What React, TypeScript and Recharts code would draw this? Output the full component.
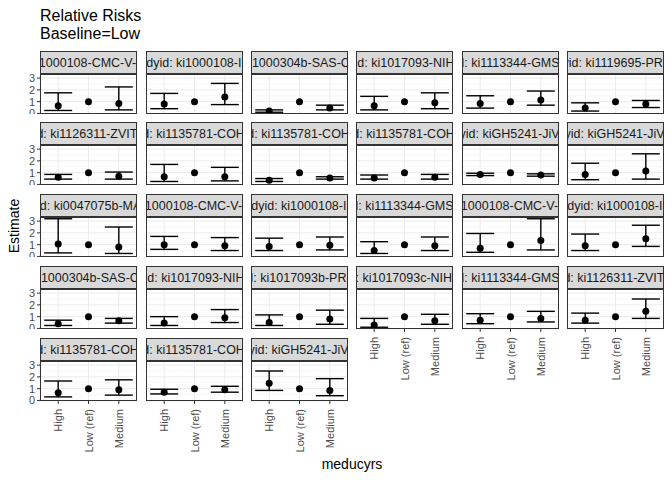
import React from "react";
import {
  ComposedChart,
  Scatter,
  ErrorBar,
  XAxis,
  YAxis,
  CartesianGrid,
  ReferenceLine,
} from "recharts";

const categories = ["High", "Low (ref)", "Medium"];
const studies = [
  "ki1000108-CMC-V-BCS-2002", "ki1000108-IRC", "ki1000304b-SAS-CompFeed", "ki1017093-NIH-Birth", "ki1113344-GMS-Nepal", "ki1119695-PROBIT",
  "ki1126311-ZVITAMBO", "ki1135781-COHORTS", "ki1135781-COHORTS", "ki1135781-COHORTS", "kiGH5241-JiVitA-3", "kiGH5241-JiVitA-4",
  "ki0047075b-MAL-ED", "ki1000108-CMC-V-BCS-2002", "ki1000108-IRC", "ki1113344-GMS-Nepal", "ki1000108-CMC-V-BCS-2002", "ki1000108-IRC",
  "ki1000304b-SAS-CompFeed", "ki1017093-NIH-Birth", "ki1017093b-PROVIDE", "ki1017093c-NIH-Crypto", "ki1113344-GMS-Nepal", "ki1126311-ZVITAMBO",
  "ki1135781-COHORTS", "ki1135781-COHORTS", "kiGH5241-JiVitA-3",
];
const highEst = [0.65, 0.8, 0.2, 0.65, 0.85, 0.45, 0.6, 0.65, 0.35, 0.55, 0.85, 0.85, 1.05, 1.0, 0.85, 0.5, 0.7, 0.9, 0.4, 0.45, 0.5, 0.3, 0.7, 0.7, 0.65, 0.7, 1.45];
const highLo = [0.25, 0.4, 0.1, 0.3, 0.45, 0.2, 0.45, 0.25, 0.25, 0.45, 0.75, 0.4, 0.3, 0.6, 0.5, 0.25, 0.35, 0.5, 0.25, 0.25, 0.25, 0.1, 0.4, 0.45, 0.3, 0.55, 0.85];
const highHi = [1.75, 1.7, 0.3, 1.45, 1.5, 0.9, 0.85, 1.7, 0.5, 0.8, 0.95, 1.8, 3.2, 1.7, 1.55, 1.25, 1.95, 1.9, 0.7, 1.0, 1.15, 0.85, 1.25, 1.3, 1.65, 0.95, 2.5];
const medEst = [0.85, 1.4, 0.45, 0.9, 1.15, 0.8, 0.7, 0.65, 0.55, 0.6, 0.8, 1.15, 0.8, 0.9, 0.95, 0.9, 1.35, 1.5, 0.65, 0.9, 0.8, 0.65, 0.85, 1.45, 0.9, 0.9, 0.85];
const medLo = [0.3, 0.75, 0.3, 0.4, 0.7, 0.5, 0.45, 0.3, 0.45, 0.45, 0.7, 0.45, 0.25, 0.5, 0.55, 0.5, 0.55, 0.85, 0.45, 0.5, 0.35, 0.35, 0.55, 0.85, 0.45, 0.7, 0.4];
const medHi = [2.25, 2.55, 0.7, 1.75, 1.9, 1.1, 1.05, 1.45, 0.65, 0.85, 0.9, 2.6, 2.5, 1.6, 1.65, 1.65, 3.2, 2.65, 0.85, 1.6, 1.55, 1.2, 1.45, 2.5, 1.75, 1.2, 1.85];
const refEst = 1;

const colLeft = [40, 146, 251, 356, 462, 567];
const rowTop = [51, 122, 194, 266, 338];
const plotW = 97;
const plotH = 40;
const stripH = 23;
const yAxisW = 20;
const font = "'Liberation Sans', Arial, sans-serif";

const Dot = (p: any) => <circle cx={p.cx} cy={p.cy} r={3.5} fill="#000" />;

const XTick = (p: any) => (
  <text
    x={p.x}
    y={p.y + 3}
    transform={`rotate(-90 ${p.x} ${p.y + 3})`}
    textAnchor="end"
    dominantBaseline="central"
    fontSize={11}
    fill="#4d4d4d"
    fontFamily={font}
  >
    {categories[p.payload.value]}
  </text>
);

function Panel({ i }: { i: number }) {
  const col = i % 6;
  const row = Math.floor(i / 6);
  const bottom = row === 4 || (row === 3 && col >= 3);
  const left = col === 0;
  const bars = [
    { x: 0, est: highEst[i], err: [highEst[i] - highLo[i], highHi[i] - highEst[i]] },
    { x: 2, est: medEst[i], err: [medEst[i] - medLo[i], medHi[i] - medEst[i]] },
  ];
  const refs = [{ x: 1, est: refEst }];
  const top = rowTop[row];
  return (
    <>
      <div
        style={{
          position: "absolute",
          left: colLeft[col],
          top,
          width: plotW,
          height: stripH,
          boxSizing: "border-box",
          background: "#d9d9d9",
          border: "1px solid #333",
          overflow: "hidden",
          display: "flex",
          justifyContent: "center",
          alignItems: "center",
        }}
      >
        <span style={{ whiteSpace: "nowrap", fontSize: 12.5, color: "#1a1a1a", fontFamily: font }}>
          studyid: {studies[i]}
        </span>
      </div>
      <div style={{ position: "absolute", left: colLeft[col] - (left ? yAxisW : 0), top: top + stripH }}>
        <ComposedChart
          width={plotW + (left ? yAxisW : 0)}
          height={plotH + (bottom ? 60 : 0)}
          margin={{ top: 0, right: 0, bottom: 0, left: 0 }}
          style={{ overflow: "visible" }}
        >
          <CartesianGrid stroke="#ebebeb" strokeWidth={1} />
          {[0.5, 1.5, 2.5].map((v) => (
            <ReferenceLine key={v} y={v} stroke="#f4f4f4" strokeWidth={0.6} />
          ))}
          <XAxis
            dataKey="x"
            type="number"
            domain={[-0.6, 2.6]}
            ticks={[0, 1, 2]}
            interval={0}
            hide={!bottom}
            height={60}
            tick={<XTick />}
            tickLine={{ stroke: "#333" }}
            tickSize={3}
            axisLine={false}
          />
          <YAxis
            type="number"
            dataKey="est"
            domain={[-0.05, 3.35]}
            ticks={[0, 1, 2, 3]}
            interval={0}
            hide={!left}
            width={yAxisW}
            tick={{ fontSize: 11, fill: "#4d4d4d", fontFamily: font }}
            tickLine={{ stroke: "#333" }}
            tickSize={3}
            axisLine={false}
          />
          <Scatter data={bars} dataKey="est" shape={<Dot />} isAnimationActive={false}>
            <ErrorBar dataKey="err" direction="y" width={14} stroke="#000" strokeWidth={1.4} />
          </Scatter>
          <Scatter data={refs} dataKey="est" shape={<Dot />} isAnimationActive={false} />
        </ComposedChart>
      </div>
      <div
        style={{
          position: "absolute",
          left: colLeft[col],
          top: top + stripH,
          width: plotW,
          height: plotH,
          boxSizing: "border-box",
          border: "1px solid #333",
          pointerEvents: "none",
        }}
      />
    </>
  );
}

export default function App() {
  return (
    <div style={{ position: "relative", width: 672, height: 480, background: "#fff", margin: -8, fontFamily: font }}>
      <div style={{ position: "absolute", left: 40, top: 7, fontSize: 16, lineHeight: "18px", color: "#000" }}>
        Relative Risks
        <br />
        Baseline=Low
      </div>
      {studies.map((_, i) => (
        <Panel key={i} i={i} />
      ))}
      <div
        style={{
          position: "absolute",
          left: 14,
          top: 226,
          transform: "translate(-50%, -50%) rotate(-90deg)",
          fontSize: 14,
          color: "#000",
        }}
      >
        Estimate
      </div>
      <div style={{ position: "absolute", left: 352, top: 456, transform: "translateX(-50%)", fontSize: 14 }}>
        meducyrs
      </div>
    </div>
  );
}
